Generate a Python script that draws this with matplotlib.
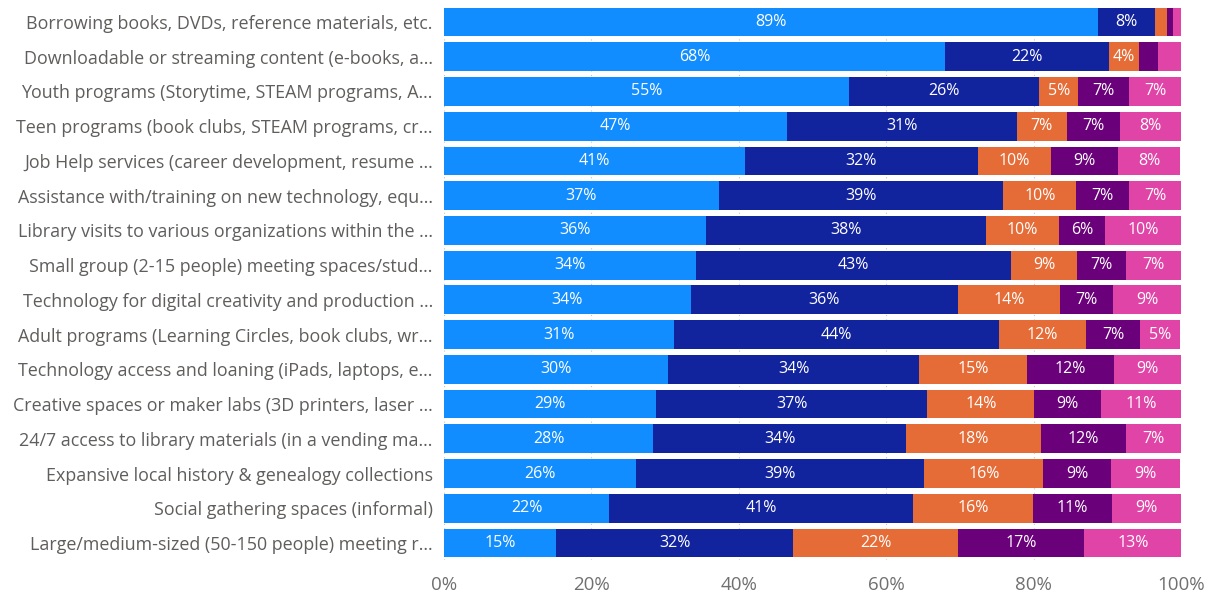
import numpy as np
import matplotlib.pyplot as plt

services = [
    "Borrowing books, DVDs, reference materials, etc.",
    "Downloadable or streaming content (e-books, a...",
    "Youth programs (Storytime, STEAM programs, A...",
    "Teen programs (book clubs, STEAM programs, cr...",
    "Job Help services (career development, resume ...",
    "Assistance with/training on new technology, equ...",
    "Library visits to various organizations within the ...",
    "Small group (2-15 people) meeting spaces/stud...",
    "Technology for digital creativity and production ...",
    "Adult programs (Learning Circles, book clubs, wr...",
    "Technology access and loaning (iPads, laptops, e...",
    "Creative spaces or maker labs (3D printers, laser ...",
    "24/7 access to library materials (in a vending ma...",
    "Expansive local history & genealogy collections",
    "Social gathering spaces (informal)",
    "Large/medium-sized (50-150 people) meeting r...",
]

# share of responses per rating, in percent
very_important = [88.7, 68.0, 55.0, 46.6, 40.8, 37.3, 35.6, 34.2, 33.5, 31.2, 30.4, 28.8, 28.4, 26.1, 22.4, 15.2]
important = [7.8, 22.2, 25.8, 31.1, 31.7, 38.6, 37.9, 42.7, 36.2, 44.1, 34.1, 36.8, 34.3, 39.1, 41.2, 32.2]
neutral = [1.6, 4.1, 5.2, 6.8, 9.8, 9.9, 10.0, 9.0, 13.9, 11.8, 14.6, 14.5, 18.3, 16.1, 16.3, 22.4]
less_important = [0.8, 2.6, 6.9, 7.2, 9.2, 7.2, 6.2, 6.7, 7.2, 7.4, 11.8, 9.1, 11.6, 9.2, 10.7, 17.1]
not_important = [1.1, 3.1, 7.2, 8.3, 8.4, 7.0, 10.3, 7.4, 9.2, 5.4, 9.1, 10.9, 7.4, 9.4, 9.4, 13.2]

series = [very_important, important, neutral, less_important, not_important]
colors = ["#118DFF", "#12239E", "#E66C37", "#6B007B", "#E044A7"]

plt.rcParams['font.family'] = ['Open Sans', 'DejaVu Sans']

fig = plt.figure(figsize=(12.16, 5.97), dpi=100)
ax = fig.add_axes([0.3651, 0.0613, 0.6061, 0.931])

y = np.arange(len(services))
left = np.zeros(len(services))
for vals, col in zip(series, colors):
    vals = np.array(vals)
    ax.barh(y, vals, left=left, height=0.83, color=col, zorder=2)
    for yi, (l, v) in enumerate(zip(left, vals)):
        # labels only where the segment is wide enough
        if v >= 3.5:
            ax.text(l + v / 2, yi, "%.0f%%" % v, ha='center', va='center',
                    color='white', fontsize=11.5, zorder=3)
    left += vals

ax.set_xlim(0, 100)
ax.set_ylim(len(services) - 0.5, -0.5)
ax.set_yticks(y)
ax.set_yticklabels(services, fontsize=12.9, color='#605E5C')
ax.set_xticks(np.arange(0, 101, 20))
ax.set_xticklabels(["%d%%" % t for t in range(0, 101, 20)], fontsize=13.5, color='#707070')
ax.tick_params(axis='both', length=0)
ax.tick_params(axis='y', pad=8)
ax.tick_params(axis='x', pad=11)
ax.grid(axis='x', linestyle=(0, (1, 3)), color='#C8C6C4', linewidth=0.8, zorder=0)
for s in ax.spines.values():
    s.set_visible(False)

fig.savefig("out.png", dpi=100)
